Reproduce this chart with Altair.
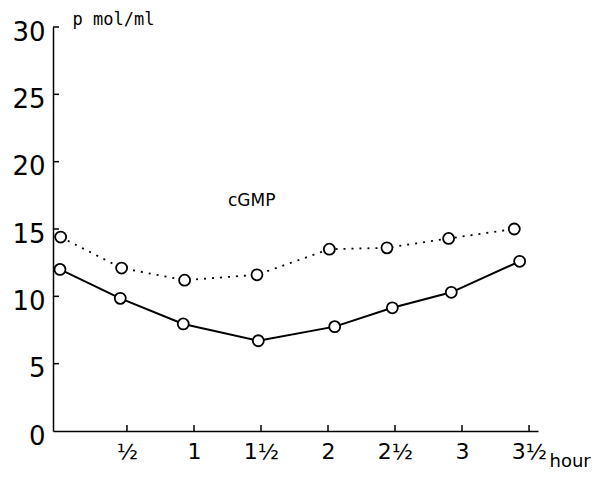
import altair as alt
import pandas as pd

# Data
hours_dotted = [0.005, 0.46, 0.93, 1.47, 2.01, 2.44, 2.90, 3.39]
values_dotted = [14.4, 12.1, 11.2, 11.6, 13.5, 13.6, 14.3, 15.0]
hours_solid = [0.0, 0.45, 0.92, 1.48, 2.05, 2.48, 2.92, 3.43]
values_solid = [12.0, 9.85, 7.95, 6.7, 7.75, 9.15, 10.3, 12.6]

x_tick_values = [0.5, 1.0, 1.5, 2.0, 2.5, 3.0, 3.5]
x_tick_labels = ["½", "1", "1½", "2", "2½", "3", "3½"]
y_tick_values = [0, 5, 10, 15, 20, 25, 30]
y_tick_labels = ["0", "5", "10", "15", "20", "25", "30"]

series_label = "cGMP"
x_title = "hour"
y_title = "p mol/ml"

df_dotted = pd.DataFrame({"hour": hours_dotted, "value": values_dotted})
df_solid = pd.DataFrame({"hour": hours_solid, "value": values_solid})
df_xt = pd.DataFrame({"hour": x_tick_values})
df_yt = pd.DataFrame({"value": y_tick_values[1:]})

# label expression built from the tick label list
expr = "''"
for v, l in zip(reversed(x_tick_values), reversed(x_tick_labels)):
    expr = f"(abs(datum.value - {v}) < 0.01 ? '{l}' : {expr})"
yexpr = "''"
for v, l in zip(reversed(y_tick_values), reversed(y_tick_labels)):
    yexpr = f"(datum.value == {v} ? '{l}' : {yexpr})"

xscale = alt.Scale(domain=[-0.052, 3.567], nice=False, zero=False)
yscale = alt.Scale(domain=[0, 30], nice=False)

xaxis = alt.Axis(
    values=x_tick_values, labelExpr=expr, ticks=False, grid=False,
    domainColor="black", domainWidth=1.5, labelColor="black",
    labelFont="DejaVu Sans", labelFontSize=22, labelPadding=10,
    title=x_title, titleFont="DejaVu Sans", titleFontSize=18, titleFontWeight="normal",
    titleColor="black", titleAlign="left", titleAnchor="start", titleX=496, titleY=35,
    titleBaseline="alphabetic",
)
yaxis = alt.Axis(
    values=y_tick_values, labelExpr=yexpr, ticks=False, grid=False,
    domainColor="black", domainWidth=1.5, labelColor="black",
    labelFont="DejaVu Sans", labelFontSize=26, labelPadding=8, labelBaseline="middle",
    labelOffset=5,
    title=y_title, titleFont="DejaVu Sans Mono", titleFontSize=17, titleFontWeight="normal",
    titleColor="black", titleAngle=0, titleAlign="left", titleX=19, titleY=-3,
    titleBaseline="alphabetic",
)

line_dotted = alt.Chart(df_dotted).mark_line(color="black", strokeWidth=1.8, strokeDash=[2, 6]).encode(
    x=alt.X("hour:Q", scale=xscale, axis=xaxis),
    y=alt.Y("value:Q", scale=yscale, axis=yaxis),
)
pts_dotted = alt.Chart(df_dotted).mark_point(shape="circle", size=121, filled=True, fill="white",
                                             stroke="black", strokeWidth=1.8, opacity=1).encode(
    x=alt.X("hour:Q", scale=xscale), y=alt.Y("value:Q", scale=yscale))
line_solid = alt.Chart(df_solid).mark_line(color="black", strokeWidth=2).encode(
    x=alt.X("hour:Q", scale=xscale), y=alt.Y("value:Q", scale=yscale))
pts_solid = alt.Chart(df_solid).mark_point(shape="circle", size=121, filled=True, fill="white",
                                           stroke="black", strokeWidth=1.8, opacity=1).encode(
    x=alt.X("hour:Q", scale=xscale), y=alt.Y("value:Q", scale=yscale))

xticks = alt.Chart(df_xt).mark_rule(color="black", strokeWidth=1.5).encode(
    x=alt.X("hour:Q", scale=xscale), y=alt.value(404), y2=alt.value(398))
yticks = alt.Chart(df_yt).mark_rule(color="black", strokeWidth=1.5).encode(
    y=alt.Y("value:Q", scale=yscale), x=alt.value(0), x2=alt.value(6))

label = alt.Chart(pd.DataFrame({"t": [series_label]})).mark_text(
    font="DejaVu Sans", fontSize=17, color="black", align="left", baseline="middle").encode(
    text="t:N", x=alt.value(175), y=alt.value(174))

chart = alt.layer(line_dotted, line_solid, xticks, yticks, pts_dotted, pts_solid, label).properties(
    width=485, height=404,
    autosize=alt.AutoSizeParams(type="none"),
    padding={"left": 45, "top": 19, "right": 65, "bottom": 39},
    background="white",
).configure_view(stroke=None)

chart.save("out.html", embed_options={"renderer": "svg", "actions": False})
